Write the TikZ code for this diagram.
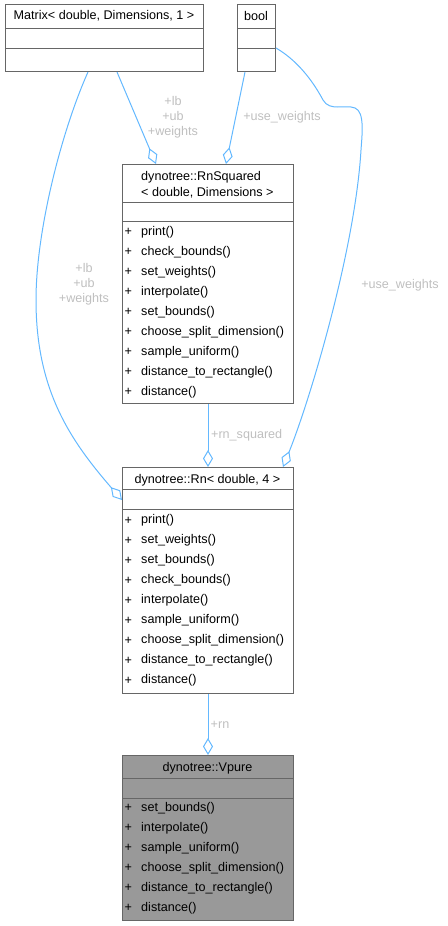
\documentclass[tikz,border=0pt]{standalone}
\usepackage{fontspec}
\setmainfont{Liberation Sans}
\usetikzlibrary{arrows.meta,calc}
\definecolor{edge}{HTML}{63B8FF}
\definecolor{lbl}{HTML}{BFBFBF}
\definecolor{brd}{HTML}{666666}
\definecolor{cur}{HTML}{999999}
\tikzset{
  box/.style={draw=brd, line width=1pt, rectangle, anchor=north west, inner sep=0pt},
  sep/.style={draw=brd, line width=1pt},
  ttl/.style={font=\fontsize{12.6}{15.6}\selectfont, inner sep=0pt, align=center},
  itm/.style={font=\fontsize{12.6}{15}\selectfont, inner sep=0pt, anchor=west},
  lab/.style={font=\fontsize{12.6}{15}\selectfont, text=lbl, inner sep=0pt, align=center},
  rel/.style={draw=edge, line width=1pt, -{Diamond[open,length=17pt,width=10pt,line width=1pt]}},
}
\newcommand{\items}[4]{% x, ystart, prefix name, list
  \foreach \t [count=\i from 0] in {#4} {
    \node[itm] (#3p\i) at (#1, {#2+20*\i}) {+};
    \node[itm] (#3t\i) at ({#1+16.5}, {#2+20*\i}) {\t};
  }}
\begin{document}
\begin{tikzpicture}[x=1pt,y=-1pt]
\useasboundingbox (0,0) rectangle (447,926);
% Matrix
\node[box, minimum width=198pt, minimum height=67pt] (matrix) at (5,4) {};
\draw[sep] (5,28) -- (203,28); \draw[sep] (5,48) -- (203,48);
\node[ttl] (matrixt) at (104,16) {Matrix< double, Dimensions, 1 >};
% bool
\node[box, minimum width=38pt, minimum height=67pt] (bool) at (237,4) {};
\draw[sep] (237,28) -- (275,28); \draw[sep] (237,48) -- (275,48);
\node[ttl] (boolt) at (256,16) {bool};
% RnSquared
\node[box, minimum width=171pt, minimum height=239pt] (rnsq) at (122,164) {};
\draw[sep] (122,202) -- (293,202); \draw[sep] (122,221) -- (293,221);
\node[ttl, anchor=west, align=left] (rnsqt) at (141,184.5) {dynotree::RnSquared\\< double, Dimensions >};
\items{124.5}{232.3}{a}{print(),check\_bounds(),set\_weights(),interpolate(),set\_bounds(),choose\_split\_dimension(),sample\_uniform(),distance\_to\_rectangle(),distance()}
% Rn
\node[box, minimum width=171pt, minimum height=226pt] (rn) at (122,467) {};
\draw[sep] (122,489) -- (293,489); \draw[sep] (122,509) -- (293,509);
\node[ttl] (rnt) at (207.5,480.7) {dynotree::Rn< double, 4 >};
\items{124.5}{520.7}{b}{print(),set\_weights(),set\_bounds(),check\_bounds(),interpolate(),sample\_uniform(),choose\_split\_dimension(),distance\_to\_rectangle(),distance()}
% Vpure
\node[box, fill=cur, minimum width=171pt, minimum height=165pt] (vp) at (122,755) {};
\draw[sep] (122,778) -- (293,778); \draw[sep] (122,798) -- (293,798);
\node[ttl] (vpt) at (207.5,768.7) {dynotree::Vpure};
\items{124.5}{808.3}{c}{set\_bounds(),interpolate(),sample\_uniform(),choose\_split\_dimension(),distance\_to\_rectangle(),distance()}
% connectors
\draw[rel] ($(matrix.south west)+(112,0)$) -- ($(rnsq.north west)+(34,0)$);
\node[lab] (l1) at (173,117.7) {+lb\\+ub\\+weights};
\draw[rel] ($(bool.south west)+(8,0)$) -- ($(rnsq.north west)+(104,0)$);
\node[lab] (l2) at (282,117.7) {+use\_weights};
\draw[rel] ($(matrix.south west)+(83,0)$) .. controls (62,130) and (36,230) .. (36,300) .. controls (36,390) and (70,440) .. ($(rn.north west)+(0,33)$);
\node[lab] (l3) at (84,284.3) {+lb\\+ub\\+weights};
\draw[rel] ($(bool.north east)+(0,44)$) .. controls (300,62) and (315,85) .. (323,100) .. controls (330,112) and (345,104) .. (355,108) .. controls (365,112) and (362,135) .. (361,150) .. controls (355,250) and (310,400) .. ($(rn.north east)+(-11,0)$);
\node[lab] (l4) at (400,285) {+use\_weights};
\draw[rel] (rnsq.south -| 208,0) -- (rn.north -| 208,0);
\node[lab] (l5) at (246.7,435.7) {+rn\_squared};
\draw[rel] (rn.south -| 208,0) -- (vp.north -| 208,0);
\node[lab] (l6) at (220,724.7) {+rn};
\end{tikzpicture}
\end{document}
